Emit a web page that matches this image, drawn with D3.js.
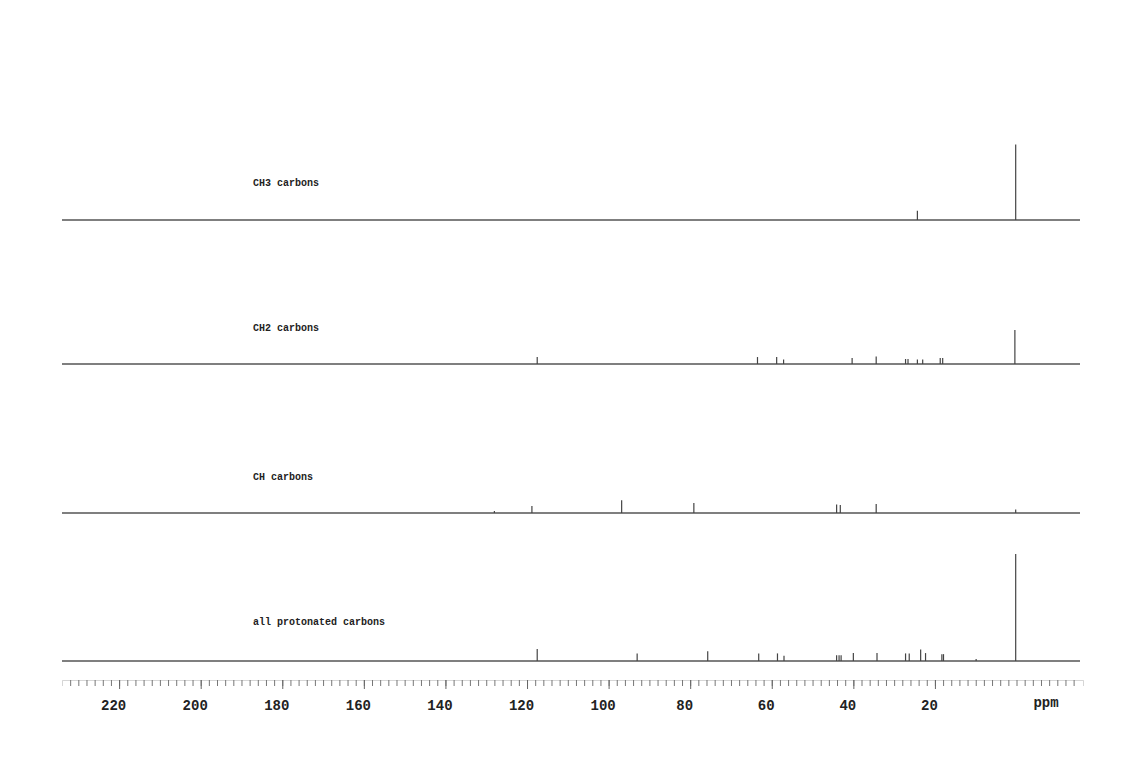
<!DOCTYPE html>
<html lang="en">
<head>
  <meta charset="UTF-8">
  <title>DEPT 13C spectra</title>
  <script src="https://d3js.org/d3.v7.min.js"></script>
  <style>
    body { margin: 0; background: #fff; }
    svg { display: block; }
    .lbl { font-family: "Liberation Mono", "DejaVu Sans Mono", monospace; font-weight: bold; fill: #222; }
  </style>
</head>
<body>
  <svg id="chart"></svg>

  <script>
    // chemical shifts (ppm) and relative intensities (biggest peak = 100)
    const ch3Shifts = [24.3, 0.2];
    const ch3Heights = [8.7, 70.6];

    const ch2Shifts = [117.5, 63.5, 58.8, 57.1, 40.3, 34.4, 27.2, 26.6, 24.3, 23.0, 18.7, 18.1, 0.4];
    const ch2Heights = [6.5, 6.5, 6.5, 4.2, 5.6, 7.0, 4.7, 4.7, 4.2, 4.2, 5.6, 5.6, 31.8];

    const chShifts = [128.0, 118.8, 96.8, 79.1, 44.1, 43.2, 34.4, 0.2];
    const chHeights = [1.9, 6.5, 11.9, 9.3, 8.0, 7.5, 8.4, 3.2];

    const allShifts = [117.5, 93.0, 75.7, 63.2, 58.6, 57.0, 44.1, 43.5, 43.0, 40.0, 34.2,
                       27.2, 26.3, 23.5, 22.3, 18.3, 17.9, 9.9, 0.2];
    const allHeights = [11.2, 7.1, 9.0, 7.1, 7.1, 4.9, 5.4, 5.4, 5.4, 7.4, 7.4,
                        7.1, 7.1, 10.7, 7.4, 6.4, 6.4, 1.9, 100];

    const spectrumNames = ["CH3 carbons", "CH2 carbons", "CH carbons", "all protonated carbons"];
    const majorTicks = [220, 200, 180, 160, 140, 120, 100, 80, 60, 40, 20];
    const axisUnit = "ppm";

    const width = 1132, height = 769;
    const svg = d3.select("#chart").attr("width", width).attr("height", height);

    const x = d3.scaleLinear().domain([234, -16.3]).range([62, 1083]);
    const h = d3.scaleLinear().domain([0, 100]).range([0, 107]);

    const spectra = [
      { name: spectrumNames[0], shifts: ch3Shifts, heights: ch3Heights, base: 220, labelY: 183 },
      { name: spectrumNames[1], shifts: ch2Shifts, heights: ch2Heights, base: 364, labelY: 328 },
      { name: spectrumNames[2], shifts: chShifts, heights: chHeights, base: 513, labelY: 477 },
      { name: spectrumNames[3], shifts: allShifts, heights: allHeights, base: 661, labelY: 622 }
    ];

    spectra.forEach(s => {
      const g = svg.append("g");

      g.append("line")
        .attr("x1", x.range()[0]).attr("x2", 1080)
        .attr("y1", s.base).attr("y2", s.base)
        .attr("stroke", "#555").attr("stroke-width", 1.4);

      const peaks = s.shifts.map((p, i) => ({ ppm: p, v: s.heights[i] }));
      g.selectAll("line.peak")
        .data(peaks)
        .enter()
        .append("line")
        .attr("class", "peak")
        .attr("x1", d => x(d.ppm)).attr("x2", d => x(d.ppm))
        .attr("y1", s.base).attr("y2", d => s.base - h(d.v))
        .attr("stroke", "#444").attr("stroke-width", 1.2);

      g.append("text")
        .attr("class", "lbl")
        .attr("x", 253).attr("y", s.labelY)
        .attr("dominant-baseline", "middle")
        .style("font-size", "10px")
        .text(s.name);
    });

    // ppm axis
    const axisY = 680;
    const minor = d3.axisBottom(x)
      .tickValues(d3.range(232, -16, -2))
      .tickSize(6)
      .tickFormat("");
    const major = d3.axisBottom(x)
      .tickValues(majorTicks)
      .tickSize(9)
      .tickPadding(11)
      .tickFormat(d3.format("d"));

    const gMinor = svg.append("g").attr("transform", `translate(0,${axisY})`).call(minor);
    gMinor.select(".domain").attr("stroke", "#bbb").attr("stroke-width", 0.6);
    gMinor.selectAll(".tick line").attr("stroke", "#777");

    const gMajor = svg.append("g").attr("transform", `translate(0,${axisY})`).call(major);
    gMajor.select(".domain").remove();
    gMajor.selectAll(".tick line").attr("stroke", "#666");
    gMajor.selectAll(".tick text")
      .attr("class", "lbl")
      .attr("dx", -6)
      .style("font-size", "14px");

    svg.append("text")
      .attr("class", "lbl")
      .attr("x", 1046).attr("y", 703)
      .attr("text-anchor", "middle")
      .attr("dominant-baseline", "middle")
      .style("font-size", "14px")
      .text(axisUnit);
  </script>
</body>
</html>
